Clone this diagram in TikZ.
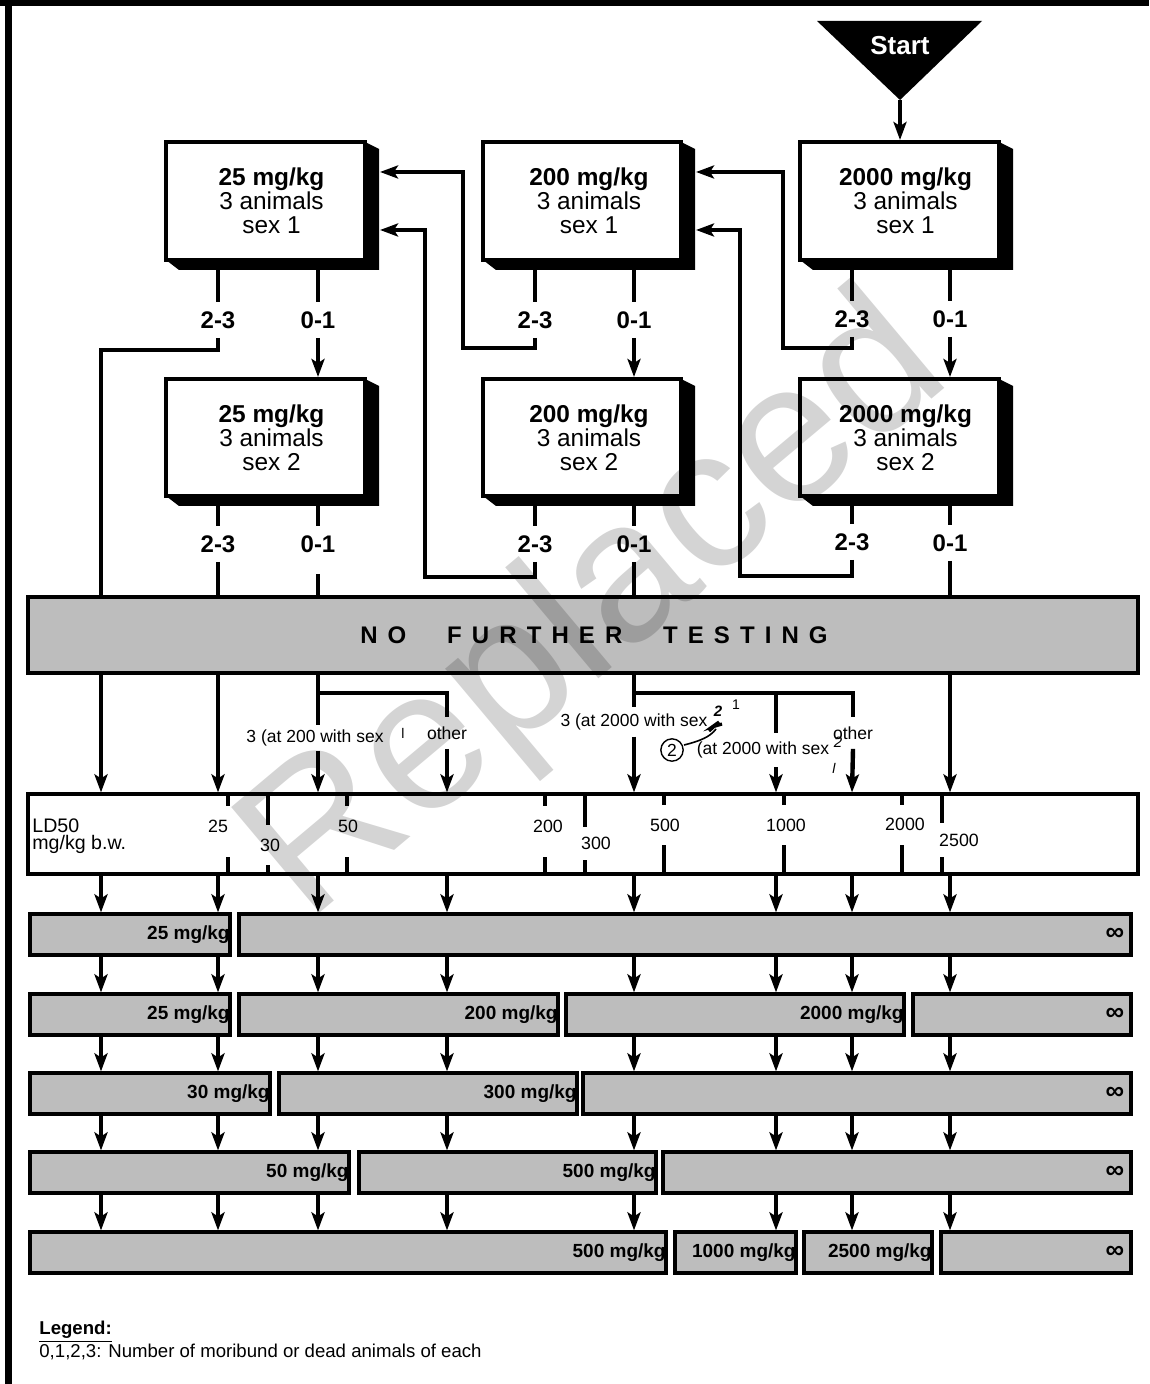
\documentclass[tikz,border=0pt]{standalone}
\usepackage{fontspec}
\setmainfont{Liberation Sans}
\usetikzlibrary{arrows.meta,fit,calc}
\definecolor{barg}{gray}{0.74}
\newcommand{\ls}{\kern0.42em}
\newcommand{\tdbox}[5]{%
  \fill (#4,#3) -- (#4+14,#3+7) -- (#4+14,#5+10) -- (#2+13,#5+10) -- (#2,#5) -- cycle;
  \node[frontbox,fit={(#2,#3)(#4,#5)}] (#1) {};}
\newcommand{\gb}[6]{%
  \node[gbar,fit={(#2,#3)(#4,#5)}] (#1) {};
  \node[gtxt] (#1t) at ([xshift=-0.8pt]#1.east) {#6};}
\newcommand{\gbi}[5]{%
  \node[gbar,fit={(#2,#3)(#4,#5)}] (#1) {};
  \node[gtxt,font=\bfseries\fontsize{13}{13}\selectfont] (#1t) at ([xshift=-4pt]#1.east) {∞};}
\begin{document}
\begin{tikzpicture}[x=0.5pt,y=-0.5pt,
  ln/.style={line width=2.2pt},
  arr/.style={line width=2.2pt,-{Stealth[length=9pt,width=6.5pt,inset=2pt]}},
  frontbox/.style={draw,line width=2pt,fill=white,inner sep=0pt},
  boxtext/.style={align=center,font=\fontsize{12.2}{12}\selectfont,inner sep=0pt},
  cnt/.style={font=\bfseries\fontsize{12}{12}\selectfont,inner xsep=1pt,inner ysep=4.5pt},
  gbar/.style={draw,line width=1.6pt,fill=barg,inner sep=0pt},
  gtxt/.style={font=\bfseries\fontsize{9.5}{9.5}\selectfont,inner sep=0pt,anchor=east},
  brlab/.style={font=\fontsize{8.75}{9}\selectfont,inner xsep=1pt},
  tickln/.style={line width=1.7pt},
  ticklab/.style={font=\fontsize{8.9}{9}\selectfont,inner sep=0pt},
  hand/.style={font=\fontsize{7}{7}\selectfont,inner sep=0pt},
]
\useasboundingbox (0,0) rectangle (1149,1384);

% frame
\draw[line width=2.75pt] (0,3) -- (1149,3);
\draw[line width=3.25pt] (8.5,0) -- (8.5,1384);

% columns
\coordinate (col1) at (101,0);
\coordinate (col2) at (218,0);
\coordinate (col3) at (318,0);
\coordinate (col4) at (447,0);
\coordinate (col5) at (634,0);
\coordinate (col6) at (776,0);
\coordinate (col7) at (852,0);
\coordinate (col8) at (950,0);
\coordinate (colb) at (535,0);

% start
\fill (817,21) -- (982,21) -- (900,100) -- cycle;
\node[text=white,font=\bfseries\fontsize{13}{13}\selectfont] (start) at (900,46) {Start};
\coordinate (apex) at (900,100);

% boxes
\tdbox{boxa1}{166}{142}{365}{260}
\tdbox{boxb1}{483}{142}{681}{260}
\tdbox{boxc1}{800}{142}{999}{260}
\tdbox{boxa2}{166}{379}{365}{496}
\tdbox{boxb2}{483}{379}{681}{496}
\tdbox{boxc2}{800}{379}{999}{496}
\node[boxtext] (ta1) at ($(boxa1.center)+(6,0)$) {\textbf{25 mg/kg}\\3 animals\\sex 1};
\node[boxtext] (tb1) at ($(boxb1.center)+(7,0)$) {\textbf{200 mg/kg}\\3 animals\\sex 1};
\node[boxtext] (tc1) at ($(boxc1.center)+(6,0)$) {\textbf{2000 mg/kg}\\3 animals\\sex 1};
\node[boxtext] (ta2) at ($(boxa2.center)+(6,0)$) {\textbf{25 mg/kg}\\3 animals\\sex 2};
\node[boxtext] (tb2) at ($(boxb2.center)+(7,0)$) {\textbf{200 mg/kg}\\3 animals\\sex 2};
\node[boxtext] (tc2) at ($(boxc2.center)+(6,0)$) {\textbf{2000 mg/kg}\\3 animals\\sex 2};

\coordinate (a1in1) at (380,172);
\coordinate (a1in2) at (380,230);
\coordinate (b1in1) at (696,172);
\coordinate (b1in2) at (696,230);

\draw[arr] (apex) -- (boxc1.north -| apex);

% count labels
\node[cnt] (la1x) at (218,320) {2-3};
\node[cnt] (la1y) at (318,320) {0-1};
\node[cnt] (lb1x) at (535,320) {2-3};
\node[cnt] (lb1y) at (634,320) {0-1};
\node[cnt] (lc1x) at (852,319) {2-3};
\node[cnt] (lc1y) at (950,319) {0-1};
\node[cnt] (la2x) at (218,544) {2-3};
\node[cnt] (la2y) at (318,544) {0-1};
\node[cnt] (lb2x) at (535,544) {2-3};
\node[cnt] (lb2y) at (634,544) {0-1};
\node[cnt] (lc2x) at (852,542) {2-3};
\node[cnt] (lc2y) at (950,543) {0-1};

% no further testing
\node[gbar,fit={(28,597)(1138,673)}] (nft) {};
\node[font=\bfseries\fontsize{12}{12}\selectfont] (nftt) at (594,635)
  {N\ls O\hspace{1.7em}F\ls U\ls R\ls T\ls H\ls E\ls R\hspace{1.7em}T\ls E\ls S\ls T\ls I\ls N\ls G};

% row 1 exits
\draw[ln] (boxa1.south -| la1x) -- (la1x.north);
\draw[ln] (la1x.south) -- ++(0,12) -| (nft.north -| col1);
\draw[ln] (boxa1.south -| la1y) -- (la1y.north);
\draw[arr] (la1y.south) -- (boxa2.north -| la1y);
\draw[ln] (boxb1.south -| lb1x) -- (lb1x.north);
\draw[arr] (lb1x.south) -- ++(0,10) -| ($(a1in1)+(83,0)$) -- (a1in1);
\draw[ln] (boxb1.south -| lb1y) -- (lb1y.north);
\draw[arr] (lb1y.south) -- (boxb2.north -| lb1y);
\draw[ln] (boxc1.south -| lc1x) -- (lc1x.north);
\draw[arr] (lc1x.south) -- ++(0,11) -| ($(b1in1)+(87,0)$) -- (b1in1);
\draw[ln] (boxc1.south -| lc1y) -- (lc1y.north);
\draw[arr] (lc1y.south) -- (boxc2.north -| lc1y);

% row 2 exits
\draw[ln] (boxa2.south -| la2x) -- (la2x.north);
\draw[ln] (la2x.south) -- (nft.north -| la2x);
\draw[ln] (boxa2.south -| la2y) -- (la2y.north);
\draw[ln] (la2y.south) ++(0,12) -- (nft.north -| la2y);
\draw[ln] (boxb2.south -| lb2x) -- (lb2x.north);
\draw[arr] (lb2x.south) -- ++(0,15) -| ($(a1in2)+(45,0)$) -- (a1in2);
\draw[ln] (boxb2.south -| lb2y) -- (lb2y.north);
\draw[ln] (lb2y.south) -- (nft.north -| lb2y);
\draw[ln] (boxc2.south -| lc2x) -- (lc2x.north);
\draw[arr] (lc2x.south) -- ++(0,16) -| ($(b1in2)+(44,0)$) -- (b1in2);
\draw[ln] (boxc2.south -| lc2y) -- (lc2y.north);
\draw[ln] (lc2y.south) -- (nft.north -| lc2y);

% LD50 scale
\node[draw,line width=1.6pt,fill=white,inner sep=0pt,fit={(28,794)(1138,874)}] (ld) {};
\foreach \x/\a/\b in {228/806/857, 268/825/865, 347/806/857, 545/806/857, 585/827/860,
                      664/805/845, 784/805/845, 902/805/845, 942/823/857} {
  \draw[tickln] (\x,794) -- (\x,\a);
  \draw[tickln] (\x,\b) -- (\x,874);
}
\node[anchor=west,align=left,font=\fontsize{9.8}{8.6}\selectfont,inner sep=0pt] (ldl) at (32,836) {LD50\\mg/kg b.w.};
\node[ticklab] (k25) at (218,826) {25};
\node[ticklab] (k30) at (270,845) {30};
\node[ticklab] (k50) at (348,826) {50};
\node[ticklab] (k200) at (548,826) {200};
\node[ticklab] (k300) at (596,843) {300};
\node[ticklab] (k500) at (665,825) {500};
\node[ticklab] (k1000) at (786,825) {1000};
\node[ticklab] (k2000) at (905,824) {2000};
\node[ticklab] (k2500) at (959,840) {2500};

% branches below the bar
\node[brlab,inner ysep=2pt] (l200) at (315,738) {3 (at 200 with sex};
\node[hand] (hw5) at (403,733) {l};
\node[brlab,inner ysep=4.5pt] (oth1) at (447,733) {other};
\coordinate (j1) at (318,693);
\draw[arr] (nft.south -| col1) -- (ld.north -| col1);
\draw[arr] (nft.south -| col2) -- (ld.north -| col2);
\draw[ln] (nft.south -| col3) -- (l200.north -| col3);
\draw[ln] (j1) -| (oth1.north);
\draw[arr] (l200.south -| col3) -- (ld.north -| col3);
\draw[arr] (oth1.south) -- (ld.north -| col4);

\node[brlab,inner ysep=3pt] (l2000) at (634,722) {3 (at 2000 with sex};
\node[brlab,inner ysep=4.4pt] (l2000b) at (763,750) {(at 2000 with sex};
\node[draw,circle,line width=0.7pt,inner sep=1.2pt,font=\fontsize{8.75}{9}\selectfont] (hw0) at (672,750) {2};
\node[brlab,inner ysep=4.5pt] (oth2) at (853,733) {other};
\coordinate (j2) at (634,693);
\draw[ln] (nft.south -| col5) -- (l2000.north -| col5);
\draw[ln] (j2) -| (oth2.north);
\draw[ln] (j2 -| col6) -- (l2000b.north -| col6);
\draw[arr] (l2000.south -| col5) -- (ld.north -| col5);
\draw[arr] (l2000b.south -| col6) -- (ld.north -| col6);
\draw[arr] (oth2.south) -- (ld.north -| col7);
\draw[arr] (nft.south -| col8) -- (ld.north -| col8);

% handwritten marks
\node[hand,font=\bfseries\itshape\fontsize{7.5}{7.5}\selectfont] (hw1) at (718,711) {2};
\node[hand] (hw2) at (736,705) {1};
\draw[line width=1.6pt] (709,731) -- (719,722) -- (712,727) -- (722,724);
\draw[line width=0.8pt] (684,745) .. controls (700,741) and (710,737) .. (716,729);
\node[hand,font=\itshape\fontsize{7.5}{7.5}\selectfont] (hw3) at (838,742) {2};
\node[hand,font=\itshape\fontsize{7}{7}\selectfont] (hw4) at (834,768) {l};

% result bars
\gb{r1a}{30}{914}{230}{955}{25 mg/kg}
\gbi{r1b}{239}{914}{1131}{955}
\gb{r2a}{30}{994}{230}{1035}{25 mg/kg}
\gb{r2b}{239}{994}{558}{1035}{200 mg/kg}
\gb{r2c}{566}{994}{904}{1035}{2000 mg/kg}
\gbi{r2d}{913}{994}{1131}{1035}
\gb{r3a}{30}{1073}{270}{1114}{30 mg/kg}
\gb{r3b}{279}{1073}{577}{1114}{300 mg/kg}
\gbi{r3c}{583}{1073}{1131}{1114}
\gb{r4a}{30}{1152}{349}{1193}{50 mg/kg}
\gb{r4b}{359}{1152}{656}{1193}{500 mg/kg}
\gbi{r4c}{663}{1152}{1131}{1193}
\gb{r5a}{30}{1232}{666}{1273}{500 mg/kg}
\gb{r5b}{675}{1232}{796}{1273}{1000 mg/kg}
\gb{r5c}{804}{1232}{932}{1273}{2500 mg/kg}
\gbi{r5d}{941}{1232}{1131}{1273}

\foreach \s/\d/\c in {ld/r1a/col1, ld/r1a/col2, ld/r1b/col3, ld/r1b/col4, ld/r1b/col5, ld/r1b/col6, ld/r1b/col7, ld/r1b/col8,
  r1a/r2a/col1, r1a/r2a/col2, r1b/r2b/col3, r1b/r2b/col4, r1b/r2c/col5, r1b/r2c/col6, r1b/r2c/col7, r1b/r2d/col8,
  r2a/r3a/col1, r2a/r3a/col2, r2b/r3b/col3, r2b/r3b/col4, r2c/r3c/col5, r2c/r3c/col6, r2c/r3c/col7, r2d/r3c/col8,
  r3a/r4a/col1, r3a/r4a/col2, r3b/r4a/col3, r3b/r4b/col4, r3c/r4b/col5, r3c/r4c/col6, r3c/r4c/col7, r3c/r4c/col8,
  r4a/r5a/col1, r4a/r5a/col2, r4a/r5a/col3, r4b/r5a/col4, r4b/r5a/col5, r4c/r5b/col6, r4c/r5c/col7, r4c/r5d/col8}
  \draw[arr] (\s.south -| \c) -- (\d.north -| \c);

% legend
\node[anchor=west,font=\bfseries\fontsize{9.3}{9.3}\selectfont,inner sep=0pt] (leg) at (39,1332) {\underline{Legend:}};
\node[anchor=west,font=\fontsize{9.3}{9.3}\selectfont,inner sep=0pt] (legt) at (39,1352) {0,1,2,3: Number of moribund or dead animals of each};

% watermark
\node[rotate=40,opacity=0.17,font=\fontsize{100}{100}\selectfont] (wm) at (598,612) {Replaced};
\end{tikzpicture}
\end{document}
